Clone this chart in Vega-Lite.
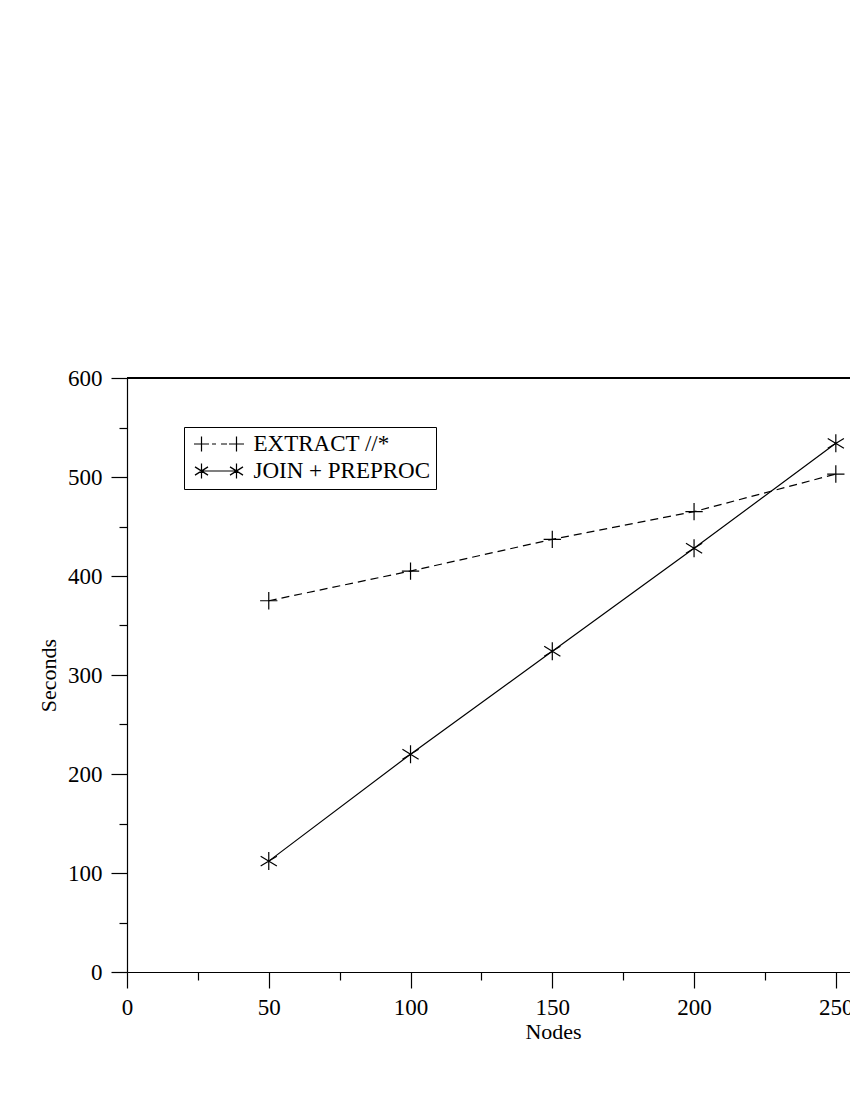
{
  "$schema": "https://vega.github.io/schema/vega-lite/v6.json",
  "autosize": {"type": "none"},
  "padding": {"left": 127, "top": 378, "right": 0, "bottom": 128},
  "width": 723,
  "height": 594,
  "background": "white",
  "config": {
    "view": {"stroke": null},
    "font": "Liberation Serif",
    "axis": {
      "domainColor": "black",
      "domainWidth": 1.2,
      "tickColor": "black",
      "tickWidth": 1.2,
      "grid": false,
      "labelFlush": false,
      "labelOverlap": false,
      "labelFont": "Liberation Serif",
      "labelFontSize": 23,
      "labelColor": "black",
      "titleFont": "Liberation Serif",
      "titleFontSize": 22,
      "titleFontWeight": "normal",
      "titleColor": "black"
    }
  },
  "data": {
    "values": [
      {"nodes": 50, "seconds": 375, "series": "EXTRACT //*"},
      {"nodes": 100, "seconds": 405, "series": "EXTRACT //*"},
      {"nodes": 150, "seconds": 437, "series": "EXTRACT //*"},
      {"nodes": 200, "seconds": 465, "series": "EXTRACT //*"},
      {"nodes": 250, "seconds": 503, "series": "EXTRACT //*"},
      {"nodes": 50, "seconds": 112, "series": "JOIN + PREPROC"},
      {"nodes": 100, "seconds": 220, "series": "JOIN + PREPROC"},
      {"nodes": 150, "seconds": 324, "series": "JOIN + PREPROC"},
      {"nodes": 200, "seconds": 428, "series": "JOIN + PREPROC"},
      {"nodes": 250, "seconds": 534, "series": "JOIN + PREPROC"}
    ]
  },
  "encoding": {
    "x": {
      "field": "nodes",
      "type": "quantitative",
      "scale": {"domain": [0, 255], "nice": false, "zero": false},
      "axis": {
        "title": "Nodes",
        "values": [0, 25, 50, 75, 100, 125, 150, 175, 200, 225, 250],
        "labelExpr": "datum.value % 50 === 0 ? datum.label : ''",
        "tickSize": {"condition": {"test": "datum.value % 50 === 0", "value": 16}, "value": 8},
        "labelPadding": 8,
        "titleX": 426,
        "titlePadding": 2
      }
    },
    "y": {
      "field": "seconds",
      "type": "quantitative",
      "scale": {"domain": [0, 600], "nice": false},
      "axis": {
        "title": "Seconds",
        "values": [0, 50, 100, 150, 200, 250, 300, 350, 400, 450, 500, 550, 600],
        "labelExpr": "datum.value % 100 === 0 ? datum.label : ''",
        "tickSize": {"condition": {"test": "datum.value % 100 === 0", "value": 16}, "value": 8},
        "labelPadding": 9,
        "titlePadding": 7
      }
    }
  },
  "layer": [
    {
      "mark": {"type": "rule", "color": "black", "strokeWidth": 1.2},
      "encoding": {"y": {"datum": 600}, "x": null}
    },
    {
      "transform": [{"filter": "datum.series === 'EXTRACT //*'"}],
      "mark": {"type": "line", "color": "black", "strokeWidth": 1.2, "strokeDash": [8, 5]},
      "encoding": {}
    },
    {
      "transform": [{"filter": "datum.series === 'JOIN + PREPROC'"}],
      "mark": {"type": "line", "color": "black", "strokeWidth": 1.2},
      "encoding": {}
    },
    {
      "transform": [{"filter": "datum.series === 'EXTRACT //*'"}],
      "mark": {"type": "point", "filled": false, "color": "black", "strokeWidth": 1.2, "opacity": 1, "size": 300, "shape": "M-1,0L1,0M0,-1L0,1"},
      "encoding": {}
    },
    {
      "transform": [{"filter": "datum.series === 'JOIN + PREPROC'"}],
      "mark": {"type": "point", "filled": false, "color": "black", "strokeWidth": 1.2, "opacity": 1, "size": 324, "shape": "M0,-1L0,1M-0.9,-0.55L0.9,0.55M-0.9,0.55L0.9,-0.55"},
      "encoding": {}
    },
    {
      "transform": [{"filter": "datum.nodes < 0"}],
      "mark": {"type": "point", "filled": false, "color": "black", "strokeWidth": 1.2, "opacity": 1, "size": 225},
      "encoding": {
        "shape": {
          "field": "series",
          "type": "nominal",
          "scale": {
            "domain": ["EXTRACT //*", "JOIN + PREPROC"],
            "range": [
              "M-3.333,0L-1.333,0M-2.333,-1L-2.333,1M1.333,0L3.333,0M2.333,-1L2.333,1M-0.93,0L-0.4,0M0.27,0L1.07,0",
              "M-2.333,0L2.333,0M-2.333,-1L-2.333,1M-3.2,-0.55L-1.466,0.55M-3.2,0.55L-1.466,-0.55M2.333,-1L2.333,1M1.466,-0.55L3.2,0.55M1.466,0.55L3.2,-0.55"
            ]
          },
          "legend": {
            "title": null,
            "orient": "none",
            "legendX": 57,
            "legendY": 49,
            "strokeColor": "black",
            "padding": 5.5,
            "symbolOffset": 18,
            "labelOffset": 23,
            "labelFont": "Liberation Serif",
            "labelFontSize": 23,
            "labelColor": "black",
            "labelLimit": 400,
            "rowPadding": 3,
            "symbolSize": 225,
            "symbolStrokeWidth": 1.2,
            "symbolStrokeColor": "black",
            "symbolOpacity": 1
          }
        }
      }
    }
  ]
}
